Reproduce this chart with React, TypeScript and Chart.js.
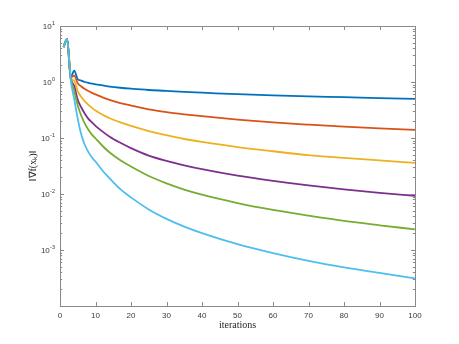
import React, { useEffect, useRef } from "react";
import { Chart, registerables } from "chart.js";

Chart.register(...registerables);

const iterations = [1, 2, 3, 4, 5, 6, 7, 8, 9, 10, 12, 14, 17, 20, 25, 30, 35, 40, 50, 60, 70, 80, 90, 100];

const seriesBlue = [4.2, 5.9, 1.2, 1.6, 1.12, 1.06, 1.0, 0.965, 0.935, 0.91, 0.87, 0.83, 0.79, 0.76, 0.72, 0.695, 0.665, 0.645, 0.605, 0.577, 0.553, 0.535, 0.515, 0.5];
const seriesOrange = [4.2, 5.9, 1.2, 1.3, 0.95, 0.83, 0.75, 0.69, 0.64, 0.6, 0.53, 0.48, 0.42, 0.38, 0.325, 0.29, 0.265, 0.245, 0.213, 0.19, 0.173, 0.159, 0.149, 0.14];
const seriesYellow = [4.2, 5.9, 1.2, 1.05, 0.68, 0.54, 0.45, 0.39, 0.345, 0.31, 0.26, 0.225, 0.19, 0.164, 0.133, 0.112, 0.096, 0.085, 0.0688, 0.058, 0.0494, 0.0442, 0.0398, 0.036];
const seriesPurple = [4.2, 5.9, 1.2, 0.85, 0.48, 0.35, 0.27, 0.22, 0.19, 0.165, 0.13, 0.105, 0.082, 0.066, 0.0485, 0.039, 0.0325, 0.0277, 0.0212, 0.0171, 0.0142, 0.0121, 0.0105, 0.0093];
const seriesGreen = [4.2, 5.9, 1.2, 0.7, 0.38, 0.25, 0.18, 0.14, 0.115, 0.098, 0.072, 0.055, 0.04, 0.031, 0.021, 0.0155, 0.012, 0.0097, 0.0069, 0.0052, 0.0041, 0.0033, 0.00276, 0.00234];
const seriesLightBlue = [4.2, 5.9, 1.1, 0.5, 0.22, 0.115, 0.075, 0.056, 0.045, 0.038, 0.026, 0.019, 0.0122, 0.0087, 0.0053, 0.0036, 0.00262, 0.002, 0.00127, 0.00088, 0.00064, 0.00049, 0.00039, 0.00031];

const xTickValues = [0, 10, 20, 30, 40, 50, 60, 70, 80, 90, 100];
const yDecadeExponents = [1, 0, -1, -2, -3];
const xLabel = "iterations";
const yLabel = "\u2016\u2207f(x\u2096)\u2016";

const seriesList = [
  { data: seriesBlue, color: "#0072BD" },
  { data: seriesOrange, color: "#D95319" },
  { data: seriesYellow, color: "#EDB120" },
  { data: seriesPurple, color: "#7E2F8E" },
  { data: seriesGreen, color: "#77AC30" },
  { data: seriesLightBlue, color: "#4DBEEE" },
];

const AXIS_COLOR = "#8a8a8a";
const TEXT_COLOR = "#3a3a3a";

const axesPlugin = {
  id: "matlabAxes",
  afterDraw(chart: any) {
    const { ctx, chartArea } = chart;
    const xs = chart.scales.x;
    const ys = chart.scales.y;
    const { left, right, top, bottom } = chartArea;
    ctx.save();
    ctx.strokeStyle = AXIS_COLOR;
    ctx.lineWidth = 1;
    ctx.strokeRect(Math.round(left) + 0.5, Math.round(top) + 0.5, Math.round(right - left), Math.round(bottom - top));
    ctx.beginPath();
    for (const v of xTickValues) {
      const px = Math.round(xs.getPixelForValue(v)) + 0.5;
      ctx.moveTo(px, bottom);
      ctx.lineTo(px, bottom - 4);
      ctx.moveTo(px, top);
      ctx.lineTo(px, top + 4);
    }
    const yMin = ys.min;
    const yMax = ys.max;
    for (let e = -5; e <= 1; e++) {
      for (let m = 1; m <= 9; m++) {
        const v = m * Math.pow(10, e);
        if (v < yMin * 0.999 || v > yMax * 1.001) continue;
        const py = Math.round(ys.getPixelForValue(v)) + 0.5;
        const len = m === 1 ? 4 : 2.2;
        ctx.moveTo(left, py);
        ctx.lineTo(left + len, py);
        ctx.moveTo(right, py);
        ctx.lineTo(right - len, py);
      }
    }
    ctx.stroke();

    ctx.fillStyle = TEXT_COLOR;
    for (const e of yDecadeExponents) {
      const py = ys.getPixelForValue(Math.pow(10, e));
      const expStr = e < 0 ? "-" + Math.abs(e) : String(e);
      ctx.font = "5.5px 'Liberation Sans', Arial, sans-serif";
      const expW = ctx.measureText(expStr).width;
      const rightEdge = left - 5;
      ctx.textBaseline = "alphabetic";
      ctx.textAlign = "left";
      ctx.fillText(expStr, rightEdge - expW, py - 1.5);
      ctx.font = "8px 'Liberation Sans', Arial, sans-serif";
      const baseW = ctx.measureText("10").width;
      ctx.fillText("10", rightEdge - expW - baseW - 0.3, py + 3);
    }

    ctx.font = "10px 'Liberation Serif', 'Times New Roman', serif";
    ctx.fillStyle = "#262626";
    ctx.textAlign = "center";
    ctx.textBaseline = "middle";
    ctx.fillText(xLabel, (left + right) / 2, 325);
    ctx.save();
    ctx.translate(33.5, (top + bottom) / 2);
    ctx.rotate(-Math.PI / 2);
    ctx.fillText(yLabel, 0, 0);
    ctx.restore();
    ctx.restore();
  },
};

export default function App() {
  const canvasRef = useRef<HTMLCanvasElement | null>(null);

  useEffect(() => {
    const canvas = canvasRef.current;
    if (!canvas) return;
    const datasets = seriesList.map((s, i) => ({
      data: iterations.map((x, j) => ({ x, y: s.data[j] })),
      borderColor: s.color,
      backgroundColor: s.color,
      borderWidth: 1.8,
      pointRadius: 0,
      fill: false,
      cubicInterpolationMode: "monotone" as const,
      order: seriesList.length - i,
    }));
    const chart = new Chart(canvas, {
      type: "line",
      data: { datasets },
      options: {
        animation: false,
        responsive: false,
        maintainAspectRatio: false,
        devicePixelRatio: 1,
        layout: { padding: { left: 0, right: 44, top: 26, bottom: 0 } },
        plugins: { legend: { display: false }, tooltip: { enabled: false } },
        scales: {
          x: {
            type: "linear",
            min: 0,
            max: 100,
            grid: { display: false, drawTicks: false },
            border: { display: false },
            afterBuildTicks: (scale: any) => {
              scale.ticks = xTickValues.map((v) => ({ value: v }));
            },
            afterFit: (scale: any) => {
              scale.height = 38;
            },
            ticks: {
              padding: 5,
              maxRotation: 0,
              autoSkip: false,
              color: TEXT_COLOR,
              font: { family: "'Liberation Sans', Arial, sans-serif", size: 8 },
              callback: (v: any) => String(v),
            },
          },
          y: {
            type: "logarithmic",
            min: 1e-4,
            max: 10,
            grid: { display: false, drawTicks: false },
            border: { display: false },
            ticks: { display: false },
            afterFit: (scale: any) => {
              scale.width = 60;
            },
          },
        },
      },
      plugins: [axesPlugin],
    });
    return () => chart.destroy();
  }, []);

  return (
    <div style={{ position: "fixed", left: 0, top: 0, width: 459, height: 344, background: "#fff" }}>
      <canvas ref={canvasRef} width={459} height={344} style={{ width: 459, height: 344 }} />
    </div>
  );
}
